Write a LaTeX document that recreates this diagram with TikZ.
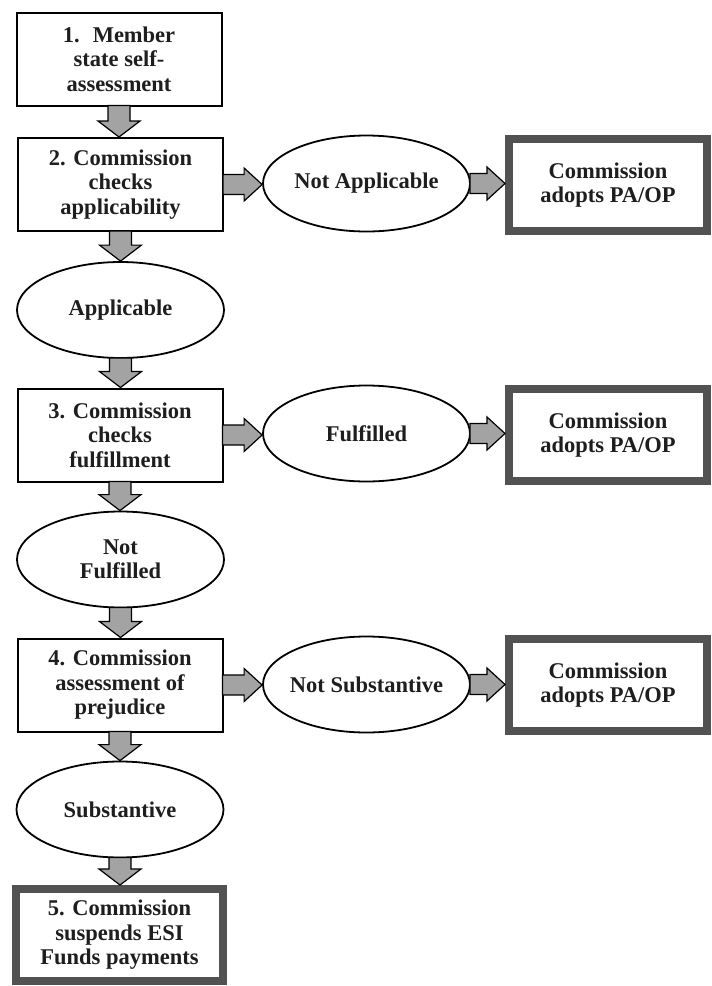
\documentclass[tikz,border=0pt]{standalone}
\usepackage{fontspec}
\setmainfont{Liberation Serif}
\usetikzlibrary{shapes.geometric,calc}
\definecolor{arrowgray}{HTML}{A3A3A3}
\definecolor{boldframe}{HTML}{525252}
\definecolor{txt}{HTML}{1E1E1E}
\tikzset{
  every node/.style={font=\fontsize{22.5}{24.5}\selectfont\bfseries, text=txt, align=center, inner sep=0pt},
  stepbox/.style={draw=black, line width=2pt, fill=white, rectangle, minimum width=205pt, minimum height=93pt},
  endbox/.style={draw=boldframe, line width=8pt, fill=white, rectangle, minimum width=198pt, minimum height=92pt},
  decision/.style={draw=black, line width=1.8pt, fill=white, ellipse, minimum width=207pt, minimum height=96pt, label={center:#1}},
  blockarrow/.style={draw=black, line width=1.2pt, fill=arrowgray, line join=miter}
}
\newcommand\downblock[2]{%
  \path[blockarrow] let \p1=(#1.south), \p2=(#2.north) in
    (\x1-11pt,\y1+1pt) -- (\x1+11pt,\y1+1pt) -- (\x1+11pt,\y2+16pt) -- (\x1+21pt,\y2+16pt)
    -- (\x1,\y2) -- (\x1-21pt,\y2+16pt) -- (\x1-11pt,\y2+16pt) -- cycle;}
\newcommand\rightblock[2]{%
  \path[blockarrow] let \p1=(#1.east), \p2=(#2.west) in
    (\x1-1pt,\y1+10pt) -- (\x1-1pt,\y1-10pt) -- (\x2-18pt,\y1-10pt) -- (\x2-18pt,\y1-16.5pt)
    -- (\x2,\y1) -- (\x2-18pt,\y1+16.5pt) -- (\x2-18pt,\y1+10pt) -- cycle;}
\begin{document}
\begin{tikzpicture}[x=1pt,y=-1pt]
\useasboundingbox (0,0) rectangle (712,986);
\node[stepbox] (b1) at (119,59) {1.~ Member\\state self-\\assessment};
\node[stepbox] (b2) at (120.5,184.5) {2. Commission\\checks\\applicability};
\node[decision={Not Applicable}] (na) at (366.5,183.5) {};
\node[endbox] (r1) at (608,185) {Commission\\adopts PA/OP};
\node[decision={Applicable}] (ap) at (120.5,310) {};
\node[stepbox] (b3) at (120,435) {3. Commission\\checks\\fulfillment};
\node[decision={Fulfilled}] (fu) at (366.5,433.5) {};
\node[endbox] (r2) at (608,435) {Commission\\adopts PA/OP};
\node[decision={{Not\\Fulfilled}}] (nf) at (120.5,559.5) {};
\node[stepbox] (b4) at (120,685) {4. Commission\\assessment of\\prejudice};
\node[decision={Not Substantive}] (ns) at (366.5,684.5) {};
\node[endbox] (r3) at (608,685) {Commission\\adopts PA/OP};
\node[decision={Substantive}] (su) at (120,809.5) {};
\node[endbox, minimum width=207pt, minimum height=92pt] (b5) at (119.5,935) {5. Commission\\suspends ESI\\Funds payments};
\downblock{b1}{b2}
\downblock{b2}{ap}
\downblock{ap}{b3}
\downblock{b3}{nf}
\downblock{nf}{b4}
\downblock{b4}{su}
\downblock{su}{b5}
\rightblock{b2}{na}
\rightblock{na}{r1}
\rightblock{b3}{fu}
\rightblock{fu}{r2}
\rightblock{b4}{ns}
\rightblock{ns}{r3}
\end{tikzpicture}
\end{document}
